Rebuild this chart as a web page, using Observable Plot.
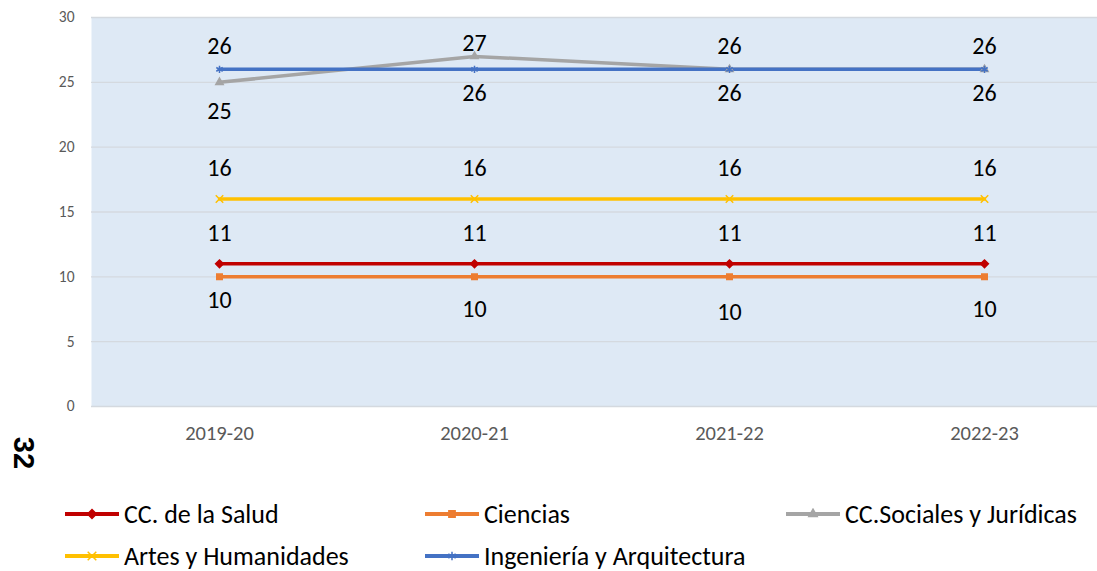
<!DOCTYPE html>
<html>
<head>
<meta charset="utf-8">
<script src="https://cdn.jsdelivr.net/npm/d3@7"></script>
<script src="https://cdn.jsdelivr.net/npm/@observablehq/plot@0.6"></script>
<style>
  html, body { margin: 0; padding: 0; background: #fff; }
  #wrap { position: relative; width: 1097px; height: 571px; overflow: hidden; font-family: Carlito, Calibri, Lato, sans-serif; }
  #chart { position: absolute; left: 0; top: 0; }
  .leg { position: absolute; display: flex; align-items: center; font-size: 26px; color: #000; white-space: nowrap; }
  .leg svg { margin-right: 5px; }
  #page { position: absolute; left: 23px; top: 453px; font-size: 29px; font-weight: bold; line-height: 1; transform: translate(-50%, -50%) rotate(90deg); font-family: "Liberation Sans", Arial, sans-serif; }
</style>
</head>
<body>
<div id="wrap">
  <div id="chart"></div>
  <div id="page">32</div>
</div>
<script>
const years = ["2019-20", "2020-21", "2021-22", "2022-23"];
const seriesNames = ["CC. de la Salud", "Ciencias", "CC.Sociales y Jurídicas", "Artes y Humanidades", "Ingeniería y Arquitectura"];
const salud = [11, 11, 11, 11];
const ciencias = [10, 10, 10, 10];
const sociales = [25, 27, 26, 26];
const artes = [16, 16, 16, 16];
const ingenieria = [26, 26, 26, 26];
const yTicks = [0, 5, 10, 15, 20, 25, 30];

// styling config (not data)
const colors = ["#C00000", "#ED7D31", "#A5A5A5", "#FFC000", "#4472C4"];
const symbols = ["diamond2", "square2", "triangle2", "times", "asterisk"];
const labelDy = [
  [-31, -31, -31, -31],
  [23, 32, 35, 32],
  [29, -13, 24, 24],
  [-31, -31, -31, -31],
  [-23, 24, -23, -23]
];

const valuesBySeries = [salud, ciencias, sociales, artes, ingenieria];
const rows = [];
valuesBySeries.forEach((vals, si) => {
  vals.forEach((v, i) => rows.push({series: seriesNames[si], year: years[i], value: v, dy: labelDy[si][i]}));
});

const dyGroups = Array.from(new Set(rows.map(d => d.dy)));
const textMarks = dyGroups.map(dy => Plot.text(rows.filter(d => d.dy === dy), {
  x: "year", y: "value", text: d => String(d.value), dy, fontSize: 24, fill: "#000"
}));

const chart = Plot.plot({
  width: 1097,
  height: 450,
  marginLeft: 91,
  marginRight: 0,
  marginTop: 17,
  marginBottom: 44,
  style: {fontFamily: "Carlito, Calibri, Lato, sans-serif", fontSize: "16px", background: "transparent"},
  x: {type: "point", domain: years, range: [219, 984], padding: 0, label: null},
  y: {domain: [0, 30], label: null},
  color: {domain: seriesNames, range: colors},
  symbol: {domain: seriesNames, range: symbols},
  marks: [
    Plot.frame({fill: "#DEE9F5", stroke: null}),
    Plot.ruleY(yTicks, {stroke: "#D4D9DF", strokeWidth: 1.3}),
    Plot.axisY({ticks: yTicks, tickSize: 0, tickPadding: 17, fontSize: 15.5, fill: "#595959", label: null}),
    Plot.axisX({tickSize: 0, tickPadding: 19, fontSize: 20.5, fill: "#595959", label: null}),
    Plot.line(rows, {x: "year", y: "value", z: "series", stroke: "series", strokeWidth: 3.5}),
    Plot.dot(rows, {x: "year", y: "value", symbol: "series", fill: "series", stroke: "series", strokeWidth: 1.5, r: 3.5}),
    ...textMarks
  ]
});
document.getElementById("chart").appendChild(chart);

// legend
const legPos = [
  {x: 65, y: 514}, {x: 425, y: 514}, {x: 786, y: 514},
  {x: 65, y: 556}, {x: 425, y: 556}
];
const symMap = {diamond2: d3.symbolDiamond2, square2: d3.symbolSquare2, triangle2: d3.symbolTriangle2, times: d3.symbolTimes, asterisk: d3.symbolAsterisk};
const wrap = document.getElementById("wrap");
seriesNames.forEach((name, i) => {
  const div = document.createElement("div");
  div.className = "leg";
  div.style.left = legPos[i].x + "px";
  div.style.top = (legPos[i].y - 15) + "px";
  div.style.height = "30px";
  const svg = d3.create("svg").attr("width", 54).attr("height", 12);
  svg.append("line").attr("x1", 0).attr("x2", 54).attr("y1", 6).attr("y2", 6).attr("stroke", colors[i]).attr("stroke-width", 4);
  svg.append("path").attr("transform", "translate(27,6)")
    .attr("d", d3.symbol(symMap[symbols[i]], 50)())
    .attr("fill", colors[i]).attr("stroke", colors[i]).attr("stroke-width", 1.5);
  div.appendChild(svg.node());
  const span = document.createElement("span");
  span.textContent = name;
  div.appendChild(span);
  wrap.appendChild(div);
});
</script>
</body>
</html>
